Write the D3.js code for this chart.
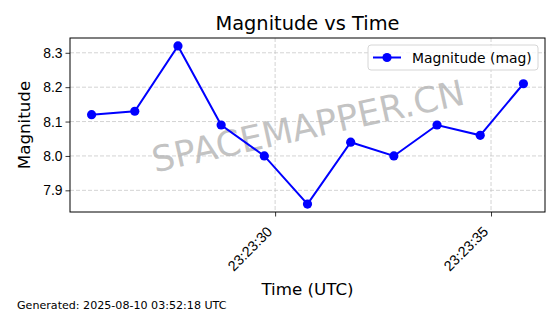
<!DOCTYPE html>
<html>
<head>
<meta charset="utf-8">
<script src="https://cdn.jsdelivr.net/npm/d3@7"></script>
<style>
	body { margin: 0; background: #fff; }
	svg { font-family: "DejaVu Sans", sans-serif; }
</style>
</head>
<body>
<div id="chart"></div>
<script>
	// data
	const times = [
		'2025-08-09T23:23:25.750Z', '2025-08-09T23:23:26.750Z', '2025-08-09T23:23:27.750Z',
		'2025-08-09T23:23:28.750Z', '2025-08-09T23:23:29.750Z', '2025-08-09T23:23:30.750Z',
		'2025-08-09T23:23:31.750Z', '2025-08-09T23:23:32.750Z', '2025-08-09T23:23:33.750Z',
		'2025-08-09T23:23:34.750Z', '2025-08-09T23:23:35.750Z',
	];
	const magnitudes = [8.12, 8.13, 8.32, 8.09, 8.00, 7.86, 8.04, 8.00, 8.09, 8.06, 8.21];
	const yTicks = [7.9, 8.0, 8.1, 8.2, 8.3];
	const seriesName = 'Magnitude (mag)';
	const generatedText = 'Generated: 2025-08-10 03:52:18 UTC';

	const width = 560;
	const height = 314;
	const margin = { top: 38, right: 15, bottom: 102, left: 70 };
	const innerW = width - margin.left - margin.right;
	const innerH = height - margin.top - margin.bottom;

	const points = times.map((t, i) => ({ t: new Date(t), v: magnitudes[i] }));

	// matplotlib style 5% margins
	const tExt = d3.extent(points, d => d.t);
	const tPad = (tExt[1] - tExt[0]) * 0.05;
	const vExt = d3.extent(magnitudes);
	const vPad = (vExt[1] - vExt[0]) * 0.05;

	const x = d3.scaleUtc()
		.domain([new Date(+tExt[0] - tPad), new Date(+tExt[1] + tPad)])
		.range([0, innerW]);
	const y = d3.scaleLinear()
		.domain([vExt[0] - vPad, vExt[1] + vPad])
		.range([innerH, 0]);

	const svg = d3.select('#chart').append('svg')
		.attr('width', width)
		.attr('height', height);

	const chart = svg.append('g')
		.attr('transform', `translate(${margin.left}, ${margin.top})`);

	const xTicks = x.ticks(d3.utcSecond.every(5));

	// grid
	chart.append('g').selectAll('line')
		.data(yTicks)
		.enter().append('line')
			.attr('x1', 0).attr('x2', innerW)
			.attr('y1', d => y(d)).attr('y2', d => y(d))
			.style('stroke', '#c8c8c8')
			.style('stroke-width', 0.8)
			.style('stroke-dasharray', '4,2');
	chart.append('g').selectAll('line')
		.data(xTicks)
		.enter().append('line')
			.attr('x1', d => x(d)).attr('x2', d => x(d))
			.attr('y1', 0).attr('y2', innerH)
			.style('stroke', '#c8c8c8')
			.style('stroke-width', 0.8)
			.style('stroke-dasharray', '4,2');

	// watermark
	chart.append('text')
		.attr('transform', `translate(${innerW / 2 + 0.5}, ${innerH / 2 + 1}) rotate(-12.4)`)
		.attr('text-anchor', 'middle')
		.attr('dominant-baseline', 'central')
		.style('font-size', '35.5px')
		.style('fill', '#b0b0b0')
		.style('fill-opacity', 0.75)
		.text('SPACEMAPPER.CN');

	// line + markers
	const line = d3.line()
		.x(d => x(d.t))
		.y(d => y(d.v));
	chart.append('path')
		.datum(points)
		.attr('d', line)
		.style('fill', 'none')
		.style('stroke', '#0000ff')
		.style('stroke-width', 2);
	chart.append('g').selectAll('circle')
		.data(points)
		.enter().append('circle')
			.attr('cx', d => x(d.t))
			.attr('cy', d => y(d.v))
			.attr('r', 4.6)
			.style('fill', '#0000ff');

	// axes
	const xAxis = chart.append('g')
		.attr('transform', `translate(0, ${innerH})`)
		.call(d3.axisBottom(x).tickValues(xTicks).tickFormat(d3.utcFormat('%H:%M:%S')).tickSize(4.5).tickSizeOuter(0));
	xAxis.selectAll('text')
		.style('font-size', '14.3px')
		.style('fill', '#000')
		.style('text-anchor', 'end')
		.attr('y', 0)
		.attr('dy', null)
		.attr('dominant-baseline', 'central')
		.attr('transform', 'translate(-6, 17) rotate(-45)');
	const yAxis = chart.append('g')
		.call(d3.axisLeft(y).tickValues(yTicks).tickFormat(d3.format('.1f')).tickSize(4.5).tickSizeOuter(0));
	yAxis.selectAll('text')
		.style('font-size', '13.9px')
		.style('fill', '#000');
	[xAxis, yAxis].forEach(a => {
		a.select('.domain').remove();
		a.selectAll('line').style('stroke', '#000').style('stroke-width', 0.8);
	});

	// frame
	chart.append('rect')
		.attr('width', innerW)
		.attr('height', innerH)
		.style('fill', 'none')
		.style('stroke', '#000')
		.style('stroke-width', 1);

	// legend
	const legend = chart.append('g')
		.attr('transform', `translate(${innerW - 177}, 7)`);
	legend.append('rect')
		.attr('width', 170)
		.attr('height', 25)
		.attr('rx', 3)
		.style('fill', '#fff')
		.style('fill-opacity', 0.8)
		.style('stroke', '#d6d6d6');
	legend.append('line')
		.attr('x1', 5).attr('x2', 33)
		.attr('y1', 12.5).attr('y2', 12.5)
		.style('stroke', '#0000ff')
		.style('stroke-width', 2);
	legend.append('circle')
		.attr('cx', 19).attr('cy', 12.5).attr('r', 4.6)
		.style('fill', '#0000ff');
	legend.append('text')
		.attr('x', 44).attr('y', 12.5)
		.attr('dominant-baseline', 'central')
		.style('font-size', '13.9px')
		.text(seriesName);

	// titles
	svg.append('text')
		.attr('x', margin.left + innerW / 2)
		.attr('y', 30)
		.attr('text-anchor', 'middle')
		.style('font-size', '19.4px')
		.text('Magnitude vs Time');
	svg.append('text')
		.attr('x', margin.left + innerW / 2)
		.attr('y', 295)
		.attr('text-anchor', 'middle')
		.style('font-size', '16.7px')
		.text('Time (UTC)');
	svg.append('text')
		.attr('transform', `translate(30, ${margin.top + innerH / 2}) rotate(-90)`)
		.attr('text-anchor', 'middle')
		.style('font-size', '16.7px')
		.text('Magnitude');
	svg.append('text')
		.attr('x', 17)
		.attr('y', 309)
		.style('font-size', '11.1px')
		.text(generatedText);
</script>
</body>
</html>
